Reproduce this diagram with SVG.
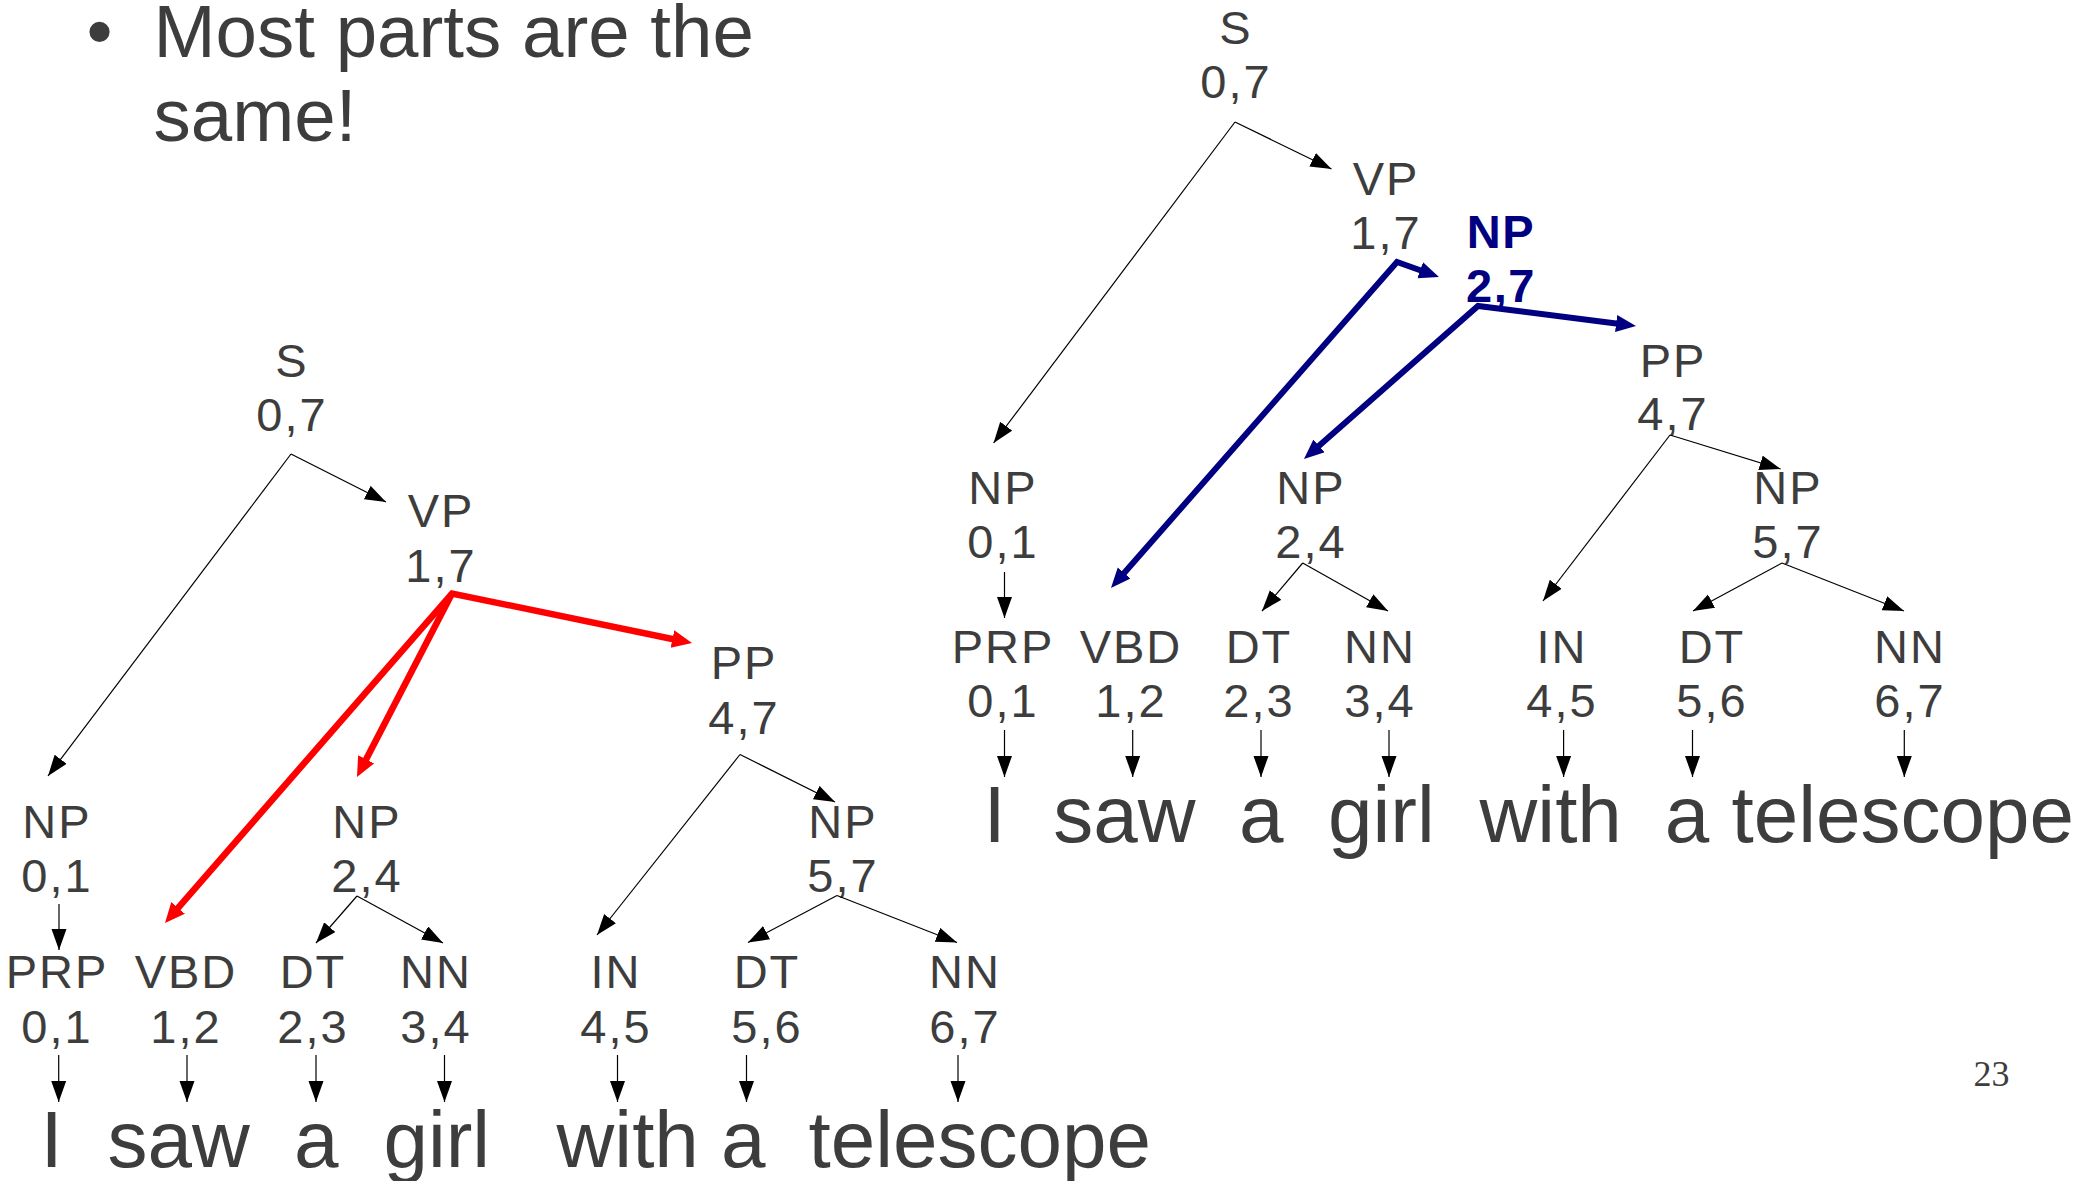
<svg xmlns="http://www.w3.org/2000/svg" width="2089" height="1181" viewBox="0 0 2089 1181">
<style>
text{font-family:"Liberation Sans",Arial,sans-serif;fill:#3d3d3d}
.n{font-size:47px;text-anchor:middle;letter-spacing:2px}
.nb{font-size:47px;text-anchor:middle;letter-spacing:1.5px;font-weight:bold;fill:#000080}
.w{font-size:80px}
.t{font-size:74.5px}
.pg{font-family:"Liberation Serif","Times New Roman",serif;font-size:36px;text-anchor:middle}
.k{fill:none;stroke:#000;stroke-width:1.2}
.r{fill:none;stroke:#ff0000;stroke-width:6.5}
.b{fill:none;stroke:#000080;stroke-width:6}
</style>
<defs>
<marker id="ak" markerUnits="userSpaceOnUse" markerWidth="22" markerHeight="16" refX="21" refY="7.5" orient="auto"><path d="M0,0 L21,7.5 L0,15 z" fill="#000"/></marker>
<marker id="ar" markerUnits="userSpaceOnUse" markerWidth="21" markerHeight="19" refX="6" refY="9" orient="auto-start-reverse"><path d="M0,0 L20,9 L0,18 z" fill="#ff0000"/></marker>
<marker id="ab" markerUnits="userSpaceOnUse" markerWidth="21" markerHeight="18" refX="6" refY="8.5" orient="auto-start-reverse"><path d="M0,0 L20,8.5 L0,17 z" fill="#000080"/></marker>
</defs>

<g id="title">
<text class="t" x="86.5" y="57">•</text>
<text class="t" x="153.5" y="57">Most parts are the</text>
<text class="t" x="153.5" y="141">same!</text>
</g>

<!-- Left tree nodes -->
<g id="L-S"><text class="n" x="292" y="377">S</text><text class="n" x="292" y="431">0,7</text></g>
<g id="L-VP"><text class="n" x="441" y="527">VP</text><text class="n" x="441" y="582">1,7</text></g>
<g id="L-PP"><text class="n" x="744" y="679">PP</text><text class="n" x="744" y="734">4,7</text></g>
<g id="L-NP01"><text class="n" x="57" y="838">NP</text><text class="n" x="57" y="892">0,1</text></g>
<g id="L-NP24"><text class="n" x="367" y="838">NP</text><text class="n" x="367" y="892">2,4</text></g>
<g id="L-NP57"><text class="n" x="843" y="838">NP</text><text class="n" x="843" y="892">5,7</text></g>
<g id="L-PRP"><text class="n" x="57" y="988">PRP</text><text class="n" x="57" y="1043">0,1</text></g>
<g id="L-VBD"><text class="n" x="186" y="988">VBD</text><text class="n" x="186" y="1043">1,2</text></g>
<g id="L-DT23"><text class="n" x="313" y="988">DT</text><text class="n" x="313" y="1043">2,3</text></g>
<g id="L-NN34"><text class="n" x="436" y="988">NN</text><text class="n" x="436" y="1043">3,4</text></g>
<g id="L-IN"><text class="n" x="616" y="988">IN</text><text class="n" x="616" y="1043">4,5</text></g>
<g id="L-DT56"><text class="n" x="767" y="988">DT</text><text class="n" x="767" y="1043">5,6</text></g>
<g id="L-NN67"><text class="n" x="965" y="988">NN</text><text class="n" x="965" y="1043">6,7</text></g>
<g id="L-words">
<text class="w" x="40.5" y="1167">I</text>
<text class="w" x="107.5" y="1167">saw</text>
<text class="w" x="294" y="1167">a</text>
<text class="w" x="383.4" y="1167">girl</text>
<text class="w" x="556.6" y="1167">with a</text>
<text class="w" x="808.6" y="1167">telescope</text>
</g>

<!-- Right tree nodes -->
<g id="R-S"><text class="n" x="1236" y="44">S</text><text class="n" x="1236" y="98">0,7</text></g>
<g id="R-VP"><text class="n" x="1386" y="195">VP</text><text class="n" x="1386" y="249">1,7</text></g>
<g id="R-NP27"><text class="nb" x="1501" y="248">NP</text><text class="nb" x="1501" y="302">2,7</text></g>
<g id="R-PP"><text class="n" x="1673" y="377">PP</text><text class="n" x="1673" y="430">4,7</text></g>
<g id="R-NP01"><text class="n" x="1003" y="504">NP</text><text class="n" x="1003" y="558">0,1</text></g>
<g id="R-NP24"><text class="n" x="1311" y="504">NP</text><text class="n" x="1311" y="558">2,4</text></g>
<g id="R-NP57"><text class="n" x="1788" y="504">NP</text><text class="n" x="1788" y="558">5,7</text></g>
<g id="R-PRP"><text class="n" x="1003" y="663">PRP</text><text class="n" x="1003" y="717">0,1</text></g>
<g id="R-VBD"><text class="n" x="1131" y="663">VBD</text><text class="n" x="1131" y="717">1,2</text></g>
<g id="R-DT23"><text class="n" x="1259" y="663">DT</text><text class="n" x="1259" y="717">2,3</text></g>
<g id="R-NN34"><text class="n" x="1380" y="663">NN</text><text class="n" x="1380" y="717">3,4</text></g>
<g id="R-IN"><text class="n" x="1562" y="663">IN</text><text class="n" x="1562" y="717">4,5</text></g>
<g id="R-DT56"><text class="n" x="1712" y="663">DT</text><text class="n" x="1712" y="717">5,6</text></g>
<g id="R-NN67"><text class="n" x="1910" y="663">NN</text><text class="n" x="1910" y="717">6,7</text></g>
<g id="R-words">
<text class="w" x="983.5" y="842">I</text>
<text class="w" x="1053.3" y="842">saw</text>
<text class="w" x="1239" y="842">a</text>
<text class="w" x="1328" y="842">girl</text>
<text class="w" x="1479.6" y="842">with</text>
<text class="w" x="1664.7" y="842">a telescope</text>
</g>

<g id="page-number"><text class="pg" x="1991.5" y="1086">23</text></g>

<g id="connectors">
<!-- left tree black -->
<path class="k" marker-end="url(#ak)" d="M291,454 L386,502"/>
<path class="k" marker-end="url(#ak)" d="M291,454 L48,776"/>
<path class="k" marker-end="url(#ak)" d="M59,904 L59,950"/>
<path class="k" marker-end="url(#ak)" d="M357,896 L316,943"/>
<path class="k" marker-end="url(#ak)" d="M357,896 L443,943"/>
<path class="k" marker-end="url(#ak)" d="M740,754.5 L835,802"/>
<path class="k" marker-end="url(#ak)" d="M740,754.5 L597,935"/>
<path class="k" marker-end="url(#ak)" d="M837,895.5 L748,942.5"/>
<path class="k" marker-end="url(#ak)" d="M837,895.5 L957,942.5"/>
<path class="k" marker-end="url(#ak)" d="M58.7,1055 V1102"/>
<path class="k" marker-end="url(#ak)" d="M187,1055 V1102"/>
<path class="k" marker-end="url(#ak)" d="M316,1055 V1102"/>
<path class="k" marker-end="url(#ak)" d="M444.5,1055 V1102"/>
<path class="k" marker-end="url(#ak)" d="M617.5,1055 V1102"/>
<path class="k" marker-end="url(#ak)" d="M746.5,1055 V1102"/>
<path class="k" marker-end="url(#ak)" d="M958,1055 V1102"/>
<!-- left tree red -->
<path class="r" marker-start="url(#ar)" marker-end="url(#ar)" d="M174.2,912.4 L452,593.5 L678.3,640.2"/>
<path class="r" marker-end="url(#ar)" d="M452,593.5 L363.4,764.6"/>
<!-- right tree black -->
<path class="k" marker-end="url(#ak)" d="M1235,122 L1331.5,169"/>
<path class="k" marker-end="url(#ak)" d="M1235,122 L993.6,443"/>
<path class="k" marker-end="url(#ak)" d="M1004.5,572 V618"/>
<path class="k" marker-end="url(#ak)" d="M1302.7,563 L1262,611"/>
<path class="k" marker-end="url(#ak)" d="M1302.7,563 L1388,611"/>
<path class="k" marker-end="url(#ak)" d="M1670,435 L1780.6,469"/>
<path class="k" marker-end="url(#ak)" d="M1670,435 L1543,601"/>
<path class="k" marker-end="url(#ak)" d="M1782,563 L1693,611"/>
<path class="k" marker-end="url(#ak)" d="M1782,563 L1904,611"/>
<path class="k" marker-end="url(#ak)" d="M1004.5,730 V777"/>
<path class="k" marker-end="url(#ak)" d="M1132.7,730 V777"/>
<path class="k" marker-end="url(#ak)" d="M1261,730 V777"/>
<path class="k" marker-end="url(#ak)" d="M1389,730 V777"/>
<path class="k" marker-end="url(#ak)" d="M1563.6,730 V777"/>
<path class="k" marker-end="url(#ak)" d="M1692.5,730 V777"/>
<path class="k" marker-end="url(#ak)" d="M1904.3,730 V777"/>
<!-- right tree blue -->
<path class="b" marker-start="url(#ab)" marker-end="url(#ab)" d="M1120.2,577.5 L1397,262 L1425.8,272.3"/>
<path class="b" marker-start="url(#ab)" marker-end="url(#ab)" d="M1314.5,449.8 L1478,306 L1622.1,324.2"/>
</g>
</svg>
